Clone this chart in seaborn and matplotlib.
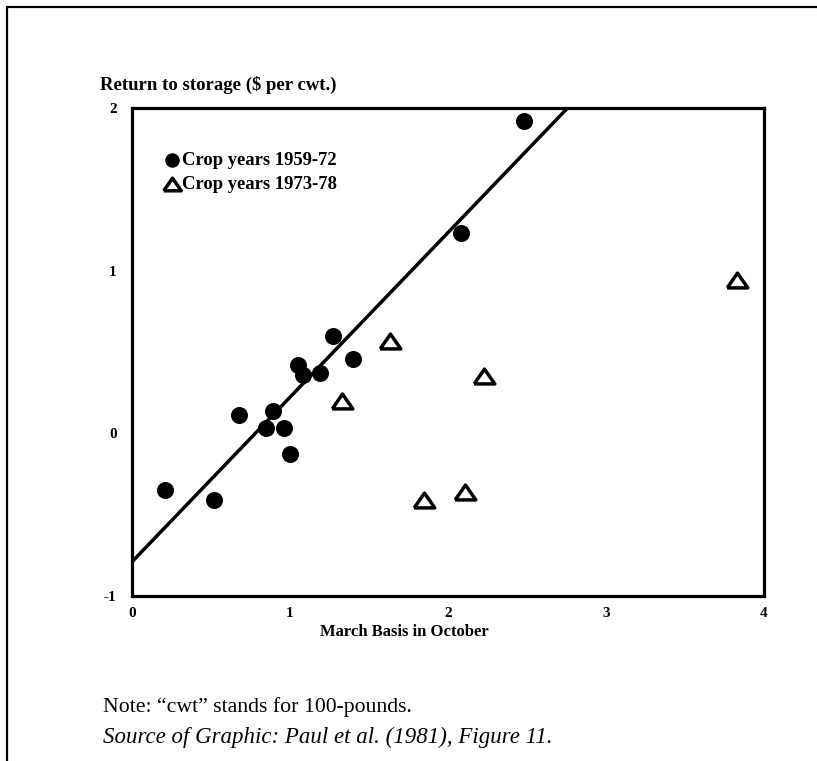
import numpy as np
import pandas as pd
import matplotlib
matplotlib.use("Agg")
import matplotlib.pyplot as plt
from matplotlib.lines import Line2D
import seaborn as sns

# ---- data ----
circle_x = [0.21, 0.52, 0.68, 0.85, 0.89, 0.96, 1.00, 1.05, 1.08, 1.19, 1.27, 1.40, 2.08, 2.48]
circle_y = [-0.35, -0.41, 0.11, 0.035, 0.14, 0.035, -0.13, 0.42, 0.36, 0.37, 0.60, 0.46, 1.23, 1.92]
tri_x = [1.33, 1.63, 1.85, 2.11, 2.23, 3.83]
tri_y = [0.20, 0.57, -0.41, -0.36, 0.35, 0.94]
label_circle = "Crop years 1959-72"
label_tri = "Crop years 1973-78"
x_ticks = [0, 1, 2, 3, 4]
y_ticks = [-1, 0, 1, 2]
y_title = "Return to storage ($ per cwt.)"
x_title = "March Basis in October"
note_text = "Note: \u201ccwt\u201d stands for 100-pounds."
source_text = "Source of Graphic: Paul et al. (1981), Figure 11."

sns.set_style("white")
plt.rcParams['font.family'] = ['Liberation Serif', 'DejaVu Serif']
plt.rcParams['text.color'] = 'black'
plt.rcParams['xtick.color'] = 'black'
plt.rcParams['ytick.color'] = 'black'

W, H = 817, 761
fig = plt.figure(figsize=(W / 100, H / 100), dpi=100)
ax = fig.add_axes([132 / W, 1 - 596 / H, (764 - 132) / W, (596 - 108) / H])
ax.set_xlim(0, 4)
ax.set_ylim(-1, 2)

df_c = pd.DataFrame({"x": circle_x, "y": circle_y})
df_t = pd.DataFrame({"x": tri_x, "y": tri_y})

sns.regplot(data=df_c, x="x", y="y", ax=ax, scatter=False, ci=None, truncate=False,
            line_kws=dict(color="black", lw=2.5, zorder=2))

sns.scatterplot(data=df_c, x="x", y="y", ax=ax, marker="o", s=150, color="black",
                edgecolor="black", linewidth=0, label=label_circle, zorder=3)
tri_marker = [(-1, -0.72), (1, -0.72), (0, 0.72), (-1, -0.72)]
sns.scatterplot(data=df_t, x="x", y="y", ax=ax, marker=tri_marker, s=220, facecolor="white",
                edgecolor="black", linewidth=2.5, label=label_tri, zorder=3)

ax.set_xlabel("")
ax.set_ylabel("")
ax.set_xticks(x_ticks)
ax.set_yticks(y_ticks)
ax.set_xticklabels([str(t) for t in x_ticks], fontsize=11, fontweight="bold")
ax.set_yticklabels([str(t) for t in y_ticks], fontsize=11, fontweight="bold")
ax.tick_params(axis="both", direction="in", length=11.5, width=2.0, color="black",
               labelcolor="black")
ax.tick_params(axis="y", pad=11)
ax.tick_params(axis="x", pad=8)
for sp in ax.spines.values():
    sp.set_visible(True)
    sp.set_color("black")
    sp.set_linewidth(2.3)

leg = ax.legend(loc="upper left", bbox_to_anchor=(0.04, 0.925), borderaxespad=0,
                frameon=False, handlelength=0.8, handletextpad=0.15, labelspacing=0.38,
                markerscale=0.85,
                prop=dict(family="Liberation Serif", weight="bold", size=13.4))
for t in leg.get_texts():
    t.set_color("black")

fig.text(100 / W, 1 - 85 / H, y_title, fontsize=13.5, fontweight="bold", ha="left",
         va="center", color="black")
fig.text(404 / W, 1 - 632 / H, x_title, fontsize=12, fontweight="bold", ha="center",
         va="center", color="black")

fig.text(103 / W, 1 - 707 / H, note_text, fontsize=15.7, ha="left", va="center", color="black")
fig.text(103 / W, 1 - 737 / H, source_text, fontsize=16.5, style="italic", ha="left",
         va="center", color="black")

# outer frame (top and left edges)
fig.add_artist(Line2D([7 / W, 1.0], [1 - 7 / H, 1 - 7 / H], transform=fig.transFigure,
                      color="black", lw=1.6))
fig.add_artist(Line2D([7 / W, 7 / W], [0.0, 1 - 7 / H], transform=fig.transFigure,
                      color="black", lw=1.6))

fig.savefig("out.png", dpi=100, facecolor="white")
